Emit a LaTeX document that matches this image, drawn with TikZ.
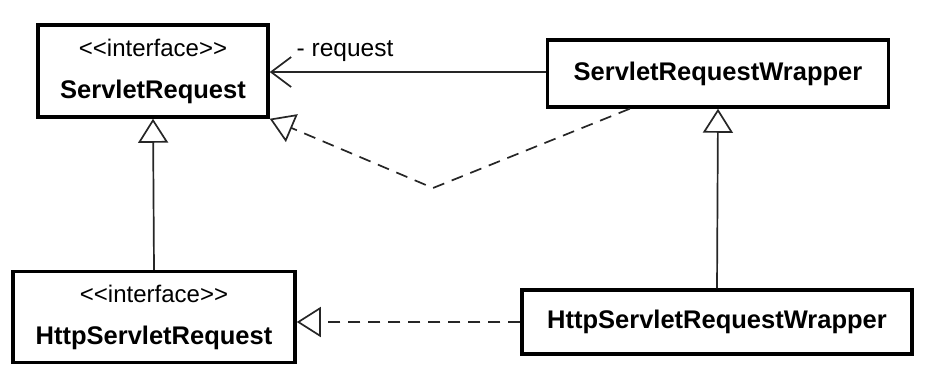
\documentclass[tikz,border=0pt]{standalone}
\usepackage{fontspec}
\setmainfont{Liberation Sans}
\usetikzlibrary{arrows.meta,calc}
\newcommand{\stereo}{{\fontsize{24}{42}\selectfont <{}<interface>{}>}}
\newcommand{\cname}[1]{{\fontsize{25.5}{42}\selectfont\bfseries #1}}
\begin{document}
\begin{tikzpicture}[x=1pt,y=-1pt,
  cls/.style={draw, line width=3.5pt, inner sep=0pt, align=center, fill=white,
    font=\fontsize{24}{42}\selectfont},
  conn/.style={line width=1.7pt, draw=black!85},
  gen/.style={conn, -{Triangle[open,length=24pt,width=30pt,line width=1.7pt]}},
  real/.style={gen, dash pattern=on 12pt off 8pt},
  assoc/.style={conn, -{Straight Barb[length=20pt,width=30pt,line width=1.7pt]}},
  lbl/.style={font=\fontsize{24.5}{28}\selectfont}
]
\useasboundingbox (0,0) rectangle (925,376);
\node[cls, minimum width=230pt, minimum height=92pt] (sr) at (153,71)
  {\stereo\\\cname{ServletRequest}};
\node[cls, minimum width=341pt, minimum height=67pt] (srw) at (718,73.5)
  {\cname{ServletRequestWrapper}};
\node[cls, minimum width=282pt, minimum height=91pt] (hsr) at (154,317)
  {\stereo\\\cname{HttpServletRequest}};
\node[cls, minimum width=390pt, minimum height=64pt] (hsrw) at (717,322)
  {\cname{HttpServletRequestWrapper}};
\coordinate (bend) at (433,188);
\draw[assoc] (srw.west |- 0,72) -- (sr.east |- 0,72);
\node[lbl] (req) at (345,51) {- request};
\draw[real] ($(srw.south west)+(84,0)$) -- (bend) -- (sr.south east);
\draw[gen] (hsr.north) -- (sr.south);
\draw[gen] (hsrw.north) -- (srw.south);
\draw[real] (hsrw.west) -- (hsr.east |- hsrw.west);
\end{tikzpicture}
\end{document}
